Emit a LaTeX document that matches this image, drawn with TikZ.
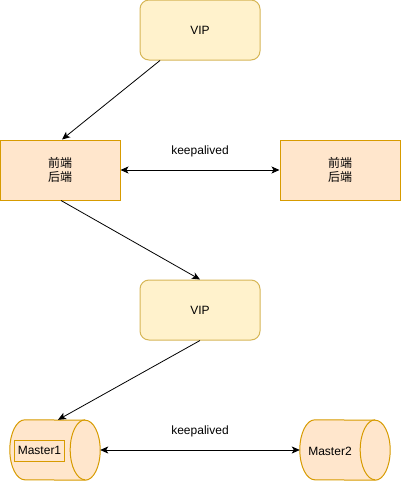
\documentclass[tikz,border=0pt]{standalone}
\usepackage{fontspec}
\setmainfont{Liberation Sans}
\newfontfamily\cjk{Noto Sans CJK SC}
\usetikzlibrary{arrows.meta,calc}
\definecolor{yfill}{HTML}{FFF2CC}
\definecolor{ydraw}{HTML}{D6B656}
\definecolor{ofill}{HTML}{FFE6CC}
\definecolor{odraw}{HTML}{D79B00}
\newcommand{\mycyl}[1]{%
  \path[cylbody] ($(#1.north west)+(15,0)$) arc[start angle=90,end angle=270,x radius=15pt,y radius=30pt]
    -- ($(#1.south east)+(-15,0)$) arc[start angle=-90,end angle=90,x radius=15pt,y radius=30pt] -- cycle;
  \draw[cylline] ($(#1.north east)+(-15,0)$) arc[start angle=90,end angle=270,x radius=15pt,y radius=30pt];
}
\begin{document}
\begin{tikzpicture}[x=1pt,y=-1pt,
  font=\fontsize{12}{14}\selectfont,
  vipbox/.style={draw=ydraw, fill=yfill, rounded corners=9pt, minimum width=120pt, minimum height=60pt, inner sep=0pt, line width=1pt},
  febox/.style={draw=odraw, fill=ofill, minimum width=120pt, minimum height=60pt, inner sep=0pt, line width=1pt, align=center, font=\cjk\fontsize{12}{14}\selectfont},
  cylhold/.style={minimum width=90pt, minimum height=60pt, inner sep=0pt},
  cylbody/.style={draw=odraw, fill=ofill, line width=1pt},
  cylline/.style={draw=odraw, line width=1pt},
  innerbox/.style={draw=odraw, line width=1pt, minimum width=50pt, minimum height=21pt, inner sep=0pt},
  lbl/.style={inner sep=0pt},
  arr/.style={line width=0.8pt, -{Stealth[length=8pt,width=7pt,inset=2pt]}},
  darr/.style={line width=0.8pt, {Stealth[length=8pt,width=7pt,inset=2pt]}-{Stealth[length=8pt,width=7pt,inset=2pt]}}
]
\useasboundingbox (0,0) rectangle (401,482);
\node[vipbox] (vip1) at (200,30) {VIP};
\node[febox] (fe1) at (60,170) {前端\\后端};
\node[febox] (fe2) at (340,170) {前端\\后端};
\node[vipbox] (vip2) at (200,310) {VIP};
\node[cylhold] (m1) at (55,450) {};
\node[cylhold] (m2) at (345,450) {};
\mycyl{m1}
\mycyl{m2}
\node[innerbox] (m1t) at (39.5,450.5) {Master1};
\node[lbl] (m2t) at (330,451) {Master2};
\node[lbl] (k1) at (200,151) {keepalived};
\node[lbl] (k2) at (200,431) {keepalived};
\draw[arr] ($(vip1.south)+(-40,0)$) -- ($(fe1.north)+(2,0)$);
\draw[arr] ($(fe1.south)+(1,0)$) -- (vip2.north);
\draw[arr] (vip2.south) -- ($(m1.north)+(3,0)$);
\draw[darr] (fe1.east) -- (fe2.west);
\draw[darr] (m1.east) -- (m2.west);
\end{tikzpicture}
\end{document}
